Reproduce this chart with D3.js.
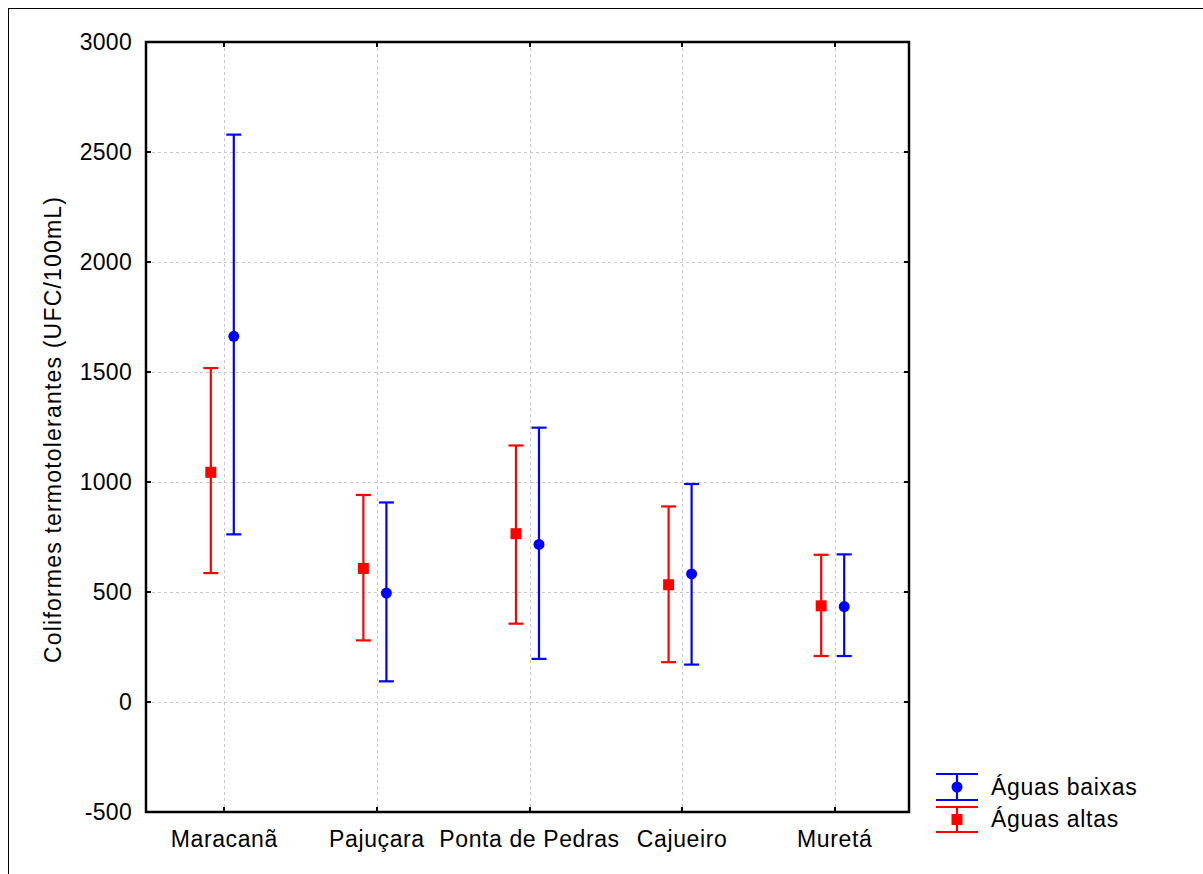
<!DOCTYPE html>
<html>
<head>
<meta charset="utf-8">
<script src="https://cdn.jsdelivr.net/npm/d3@7"></script>
<style>
  body { margin: 0; background: #fff; }
  text { font-family: "Liberation Sans", Arial, sans-serif; fill: #000; }
</style>
</head>
<body>
<div id="chart"></div>
<script>
var sites = ["Maracanã", "Pajuçara", "Ponta de Pedras", "Cajueiro", "Muretá"];

// Águas altas (red squares)
var altasMean = [1044, 607, 765, 533, 437];
var altasLow  = [586, 280, 356, 181, 209];
var altasHigh = [1518, 941, 1166, 889, 669];

// Águas baixas (blue circles)
var baixasMean = [1662, 495, 716, 582, 434];
var baixasLow  = [762, 94, 196, 170, 209];
var baixasHigh = [2579, 907, 1247, 991, 671];

var yTicks = [-500, 0, 500, 1000, 1500, 2000, 2500, 3000];

var W = 1203, H = 874;
var pLeft = 146, pRight = 909, pTop = 42, pBottom = 812;

var svg = d3.select("#chart").append("svg")
  .attr("width", W).attr("height", H);

// outer frame
svg.append("rect")
  .attr("x", 8.5).attr("y", 8.5)
  .attr("width", 1300).attr("height", 1000)
  .attr("fill", "none").attr("stroke", "#000").attr("stroke-width", 1);

var x = d3.scalePoint().domain(sites).range([pLeft, pRight]).padding(0.5);
var y = d3.scaleLinear().domain([-500, 3000]).range([pBottom, pTop]);

// gridlines
var grid = svg.append("g")
  .attr("stroke", "#c8c8c8")
  .attr("stroke-width", 1)
  .attr("stroke-dasharray", "3,3");
grid.selectAll("line.h")
  .data(yTicks.slice(1, -1))
  .enter().append("line")
  .attr("x1", pLeft).attr("x2", pRight)
  .attr("y1", function(d) { return Math.round(y(d)) + 0.5; })
  .attr("y2", function(d) { return Math.round(y(d)) + 0.5; });
grid.selectAll("line.v")
  .data(sites)
  .enter().append("line")
  .attr("x1", function(d) { return Math.round(x(d)) + 2.5; })
  .attr("x2", function(d) { return Math.round(x(d)) + 2.5; })
  .attr("y1", pTop).attr("y2", pBottom);

// ticks inside the frame
var ticks = svg.append("g").attr("stroke", "#000").attr("stroke-width", 2);
yTicks.forEach(function(t) {
  var yy = Math.round(y(t));
  ticks.append("line").attr("x1", pLeft).attr("x2", pLeft + 5).attr("y1", yy).attr("y2", yy);
  ticks.append("line").attr("x1", pRight - 5).attr("x2", pRight).attr("y1", yy).attr("y2", yy);
});
sites.forEach(function(s) {
  var xx = Math.round(x(s)) + 2;
  ticks.append("line").attr("x1", xx).attr("x2", xx).attr("y1", pBottom).attr("y2", pBottom - 5);
  ticks.append("line").attr("x1", xx).attr("x2", xx).attr("y1", pTop).attr("y2", pTop + 5);
});

// plot frame
svg.append("rect")
  .attr("x", pLeft).attr("y", pTop)
  .attr("width", pRight - pLeft).attr("height", pBottom - pTop)
  .attr("fill", "none").attr("stroke", "#000").attr("stroke-width", 2.5);

// y tick labels
svg.append("g").selectAll("text")
  .data(yTicks)
  .enter().append("text")
  .attr("x", 132)
  .attr("y", function(d) { return y(d); })
  .attr("dy", "0.35em")
  .attr("text-anchor", "end")
  .attr("font-size", "23px")
  .attr("letter-spacing", "0.3px")
  .text(function(d) { return d; });

// x labels
svg.append("g").selectAll("text")
  .data(sites)
  .enter().append("text")
  .attr("x", function(d) { return x(d) + 2; })
  .attr("y", 847)
  .attr("text-anchor", "middle")
  .attr("font-size", "23px")
  .attr("letter-spacing", "0.6px")
  .text(function(d) { return d; });

// y axis title
svg.append("text")
  .attr("transform", "translate(61,430) rotate(-90)")
  .attr("text-anchor", "middle")
  .attr("font-size", "23px")
  .attr("textLength", 466)
  .attr("lengthAdjust", "spacing")
  .text("Coliformes termotolerantes (UFC/100mL)");

var cap = 7.5, off = 11.5;

function drawSeries(mean, low, high, color, dx, shape) {
  var g = svg.append("g").attr("stroke", color).attr("fill", color);
  sites.forEach(function(s, i) {
    var cx = x(s) + dx;
    g.append("line").attr("x1", cx).attr("x2", cx)
      .attr("y1", y(low[i])).attr("y2", y(high[i])).attr("stroke-width", 2.2);
    g.append("line").attr("x1", cx - cap).attr("x2", cx + cap)
      .attr("y1", y(low[i])).attr("y2", y(low[i])).attr("stroke-width", 2.2);
    g.append("line").attr("x1", cx - cap).attr("x2", cx + cap)
      .attr("y1", y(high[i])).attr("y2", y(high[i])).attr("stroke-width", 2.2);
    if (shape === "circle") {
      g.append("circle").attr("cx", cx).attr("cy", y(mean[i])).attr("r", 5.5).attr("stroke", "none");
    } else {
      g.append("rect").attr("x", cx - 5.5).attr("y", y(mean[i]) - 5.5)
        .attr("width", 11).attr("height", 11).attr("stroke", "none");
    }
  });
}

drawSeries(altasMean, altasLow, altasHigh, "#ff0000", -off, "square");
drawSeries(baixasMean, baixasLow, baixasHigh, "#0000ff", off, "circle");

// legend
var legend = [
  { label: "Águas baixas", color: "#0000ff", shape: "circle", y1: 774, y2: 800, yt: 795 },
  { label: "Águas altas", color: "#ff0000", shape: "square", y1: 807, y2: 832, yt: 827 }
];
legend.forEach(function(l) {
  var g = svg.append("g").attr("stroke", l.color).attr("fill", l.color);
  var lx = 957, mid = (l.y1 + l.y2) / 2;
  g.append("line").attr("x1", 936).attr("x2", 978).attr("y1", l.y1).attr("y2", l.y1).attr("stroke-width", 2.2);
  g.append("line").attr("x1", 936).attr("x2", 978).attr("y1", l.y2).attr("y2", l.y2).attr("stroke-width", 2.2);
  g.append("line").attr("x1", lx).attr("x2", lx).attr("y1", l.y1).attr("y2", l.y2).attr("stroke-width", 2.2);
  if (l.shape === "circle") {
    g.append("circle").attr("cx", lx).attr("cy", mid).attr("r", 5.5).attr("stroke", "none");
  } else {
    g.append("rect").attr("x", lx - 5.5).attr("y", mid - 5.5).attr("width", 11).attr("height", 11).attr("stroke", "none");
  }
  svg.append("text").attr("x", 991).attr("y", l.yt).attr("font-size", "23px")
    .attr("letter-spacing", "0.7px").text(l.label);
});
</script>
</body>
</html>
